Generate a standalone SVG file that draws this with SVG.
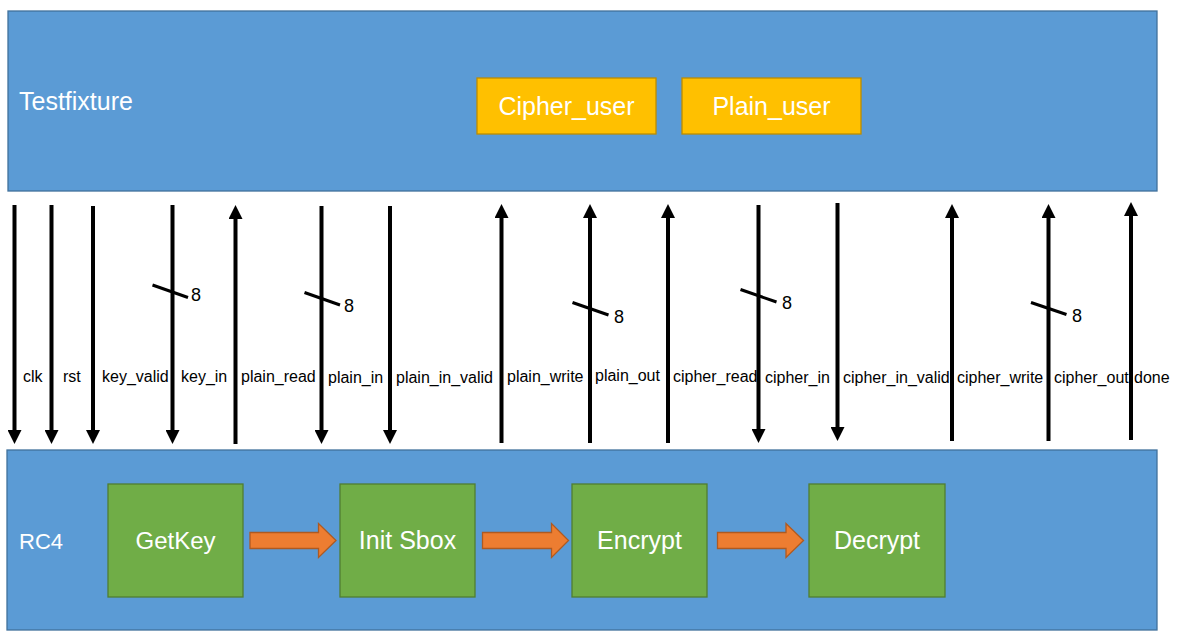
<svg xmlns="http://www.w3.org/2000/svg" width="1180" height="638" viewBox="0 0 1180 638">
<style>
.blk{fill:#5B9BD5;stroke:#41719C;stroke-width:1.3}
.gold{fill:#FFC000;stroke:#BC8C00;stroke-width:1.3}
.grn{fill:#70AD47;stroke:#507E32;stroke-width:1.3}
.org{fill:#ED7D31;stroke:#AE5A21;stroke-width:1.3}
.wt{font-family:"Liberation Sans",Arial,sans-serif;fill:#FFFFFF}
.sig{stroke:#000;stroke-width:4;fill:none}
.lbl{font-family:"Liberation Sans",Arial,sans-serif;font-size:16px;fill:#000}
.bus{stroke:#000;stroke-width:3}
.w8{font-family:"Liberation Sans",Arial,sans-serif;font-size:18px;fill:#000}
</style>
<defs>
<marker id="ah" markerUnits="userSpaceOnUse" markerWidth="14" markerHeight="14" refX="3" refY="7" orient="auto">
<path d="M0,0 L14,7 L0,14 z" fill="#000"/>
</marker>
</defs>
<g id="testfixture">
<rect class="blk" x="8" y="11" width="1149" height="180"/>
<text class="wt" x="19" y="110" font-size="25">Testfixture</text>
</g>
<g id="cipher_user">
<rect class="gold" x="477" y="78" width="179" height="56"/>
<text class="wt" x="566.5" y="115" font-size="25" text-anchor="middle">Cipher_user</text>
</g>
<g id="plain_user">
<rect class="gold" x="682" y="78" width="179" height="56"/>
<text class="wt" x="771.5" y="115" font-size="25" text-anchor="middle">Plain_user</text>
</g>
<g id="rc4">
<rect class="blk" x="7" y="450" width="1150" height="180"/>
<text class="wt" x="19" y="549" font-size="22">RC4</text>
</g>
<g id="getkey">
<rect class="grn" x="108" y="484" width="135" height="113"/>
<text class="wt" x="175.5" y="549" font-size="24" text-anchor="middle">GetKey</text>
</g>
<g id="initsbox">
<rect class="grn" x="340" y="484" width="135" height="113"/>
<text class="wt" x="407.5" y="549" font-size="25" text-anchor="middle">Init Sbox</text>
</g>
<g id="encrypt">
<rect class="grn" x="572" y="484" width="135" height="113"/>
<text class="wt" x="639.5" y="549" font-size="25" text-anchor="middle">Encrypt</text>
</g>
<g id="decrypt">
<rect class="grn" x="809" y="484" width="136" height="113"/>
<text class="wt" x="877" y="549" font-size="25" text-anchor="middle">Decrypt</text>
</g>
<g id="flow">
<path class="org" d="M250,532.5 H318.5 V523.5 L336,540.5 L318.5,557.5 V548.5 H250 Z"/>
<path class="org" d="M482.5,532.5 H551.5 V523.5 L568.5,540.5 L551.5,557.5 V548.5 H482.5 Z"/>
<path class="org" d="M717.5,532.5 H786 V523.5 L803.5,540.5 L786,557.5 V548.5 H717.5 Z"/>
</g>
<g id="labels">
<text class="lbl" x="23" y="382">clk</text>
<text class="lbl" x="63" y="382">rst</text>
<text class="lbl" x="102" y="382">key_valid</text>
<text class="lbl" x="181" y="382">key_in</text>
<text class="lbl" x="241" y="382">plain_read</text>
<text class="lbl" x="328" y="383">plain_in</text>
<text class="lbl" x="396" y="383">plain_in_valid</text>
<text class="lbl" x="507" y="382">plain_write</text>
<text class="lbl" x="595" y="381">plain_out</text>
<text class="lbl" x="673" y="382">cipher_read</text>
<text class="lbl" x="765" y="383">cipher_in</text>
<text class="lbl" x="843" y="383">cipher_in_valid</text>
<text class="lbl" x="957" y="383">cipher_write</text>
<text class="lbl" x="1054" y="383">cipher_out</text>
<text class="lbl" x="1134" y="383">done</text>
</g>
<g id="connectors">
<line class="sig" x1="14.5" y1="205" x2="14.5" y2="433" marker-end="url(#ah)"/>
<line class="sig" x1="51.5" y1="205" x2="51.5" y2="433" marker-end="url(#ah)"/>
<line class="sig" x1="93" y1="206" x2="93" y2="433" marker-end="url(#ah)"/>
<line class="sig" x1="172.5" y1="205" x2="172.5" y2="433" marker-end="url(#ah)"/>
<line class="sig" x1="235.5" y1="444" x2="235.5" y2="216" marker-end="url(#ah)"/>
<line class="sig" x1="321.5" y1="206" x2="321.5" y2="433" marker-end="url(#ah)"/>
<line class="sig" x1="390" y1="206" x2="390" y2="433" marker-end="url(#ah)"/>
<line class="sig" x1="501.5" y1="443" x2="501.5" y2="215" marker-end="url(#ah)"/>
<line class="sig" x1="590" y1="443" x2="590" y2="215" marker-end="url(#ah)"/>
<line class="sig" x1="668" y1="443" x2="668" y2="215" marker-end="url(#ah)"/>
<line class="sig" x1="758.5" y1="205" x2="758.5" y2="432" marker-end="url(#ah)"/>
<line class="sig" x1="837.5" y1="203" x2="837.5" y2="430" marker-end="url(#ah)"/>
<line class="sig" x1="952" y1="441" x2="952" y2="215" marker-end="url(#ah)"/>
<line class="sig" x1="1048.5" y1="441" x2="1048.5" y2="215" marker-end="url(#ah)"/>
<line class="sig" x1="1131" y1="440" x2="1131" y2="213" marker-end="url(#ah)"/>
</g>
<g id="bus-widths">
<line class="bus" x1="152.5" y1="285" x2="188" y2="297.5"/>
<text class="w8" x="191" y="301">8</text>
<line class="bus" x1="304.5" y1="292.5" x2="340" y2="305"/>
<text class="w8" x="344" y="312">8</text>
<line class="bus" x1="572.5" y1="302.5" x2="608.5" y2="315"/>
<text class="w8" x="614" y="323">8</text>
<line class="bus" x1="740.5" y1="289.5" x2="776.5" y2="302"/>
<text class="w8" x="782" y="309">8</text>
<line class="bus" x1="1031" y1="302.5" x2="1066.5" y2="314.5"/>
<text class="w8" x="1072" y="322">8</text>
</g>
</svg>
